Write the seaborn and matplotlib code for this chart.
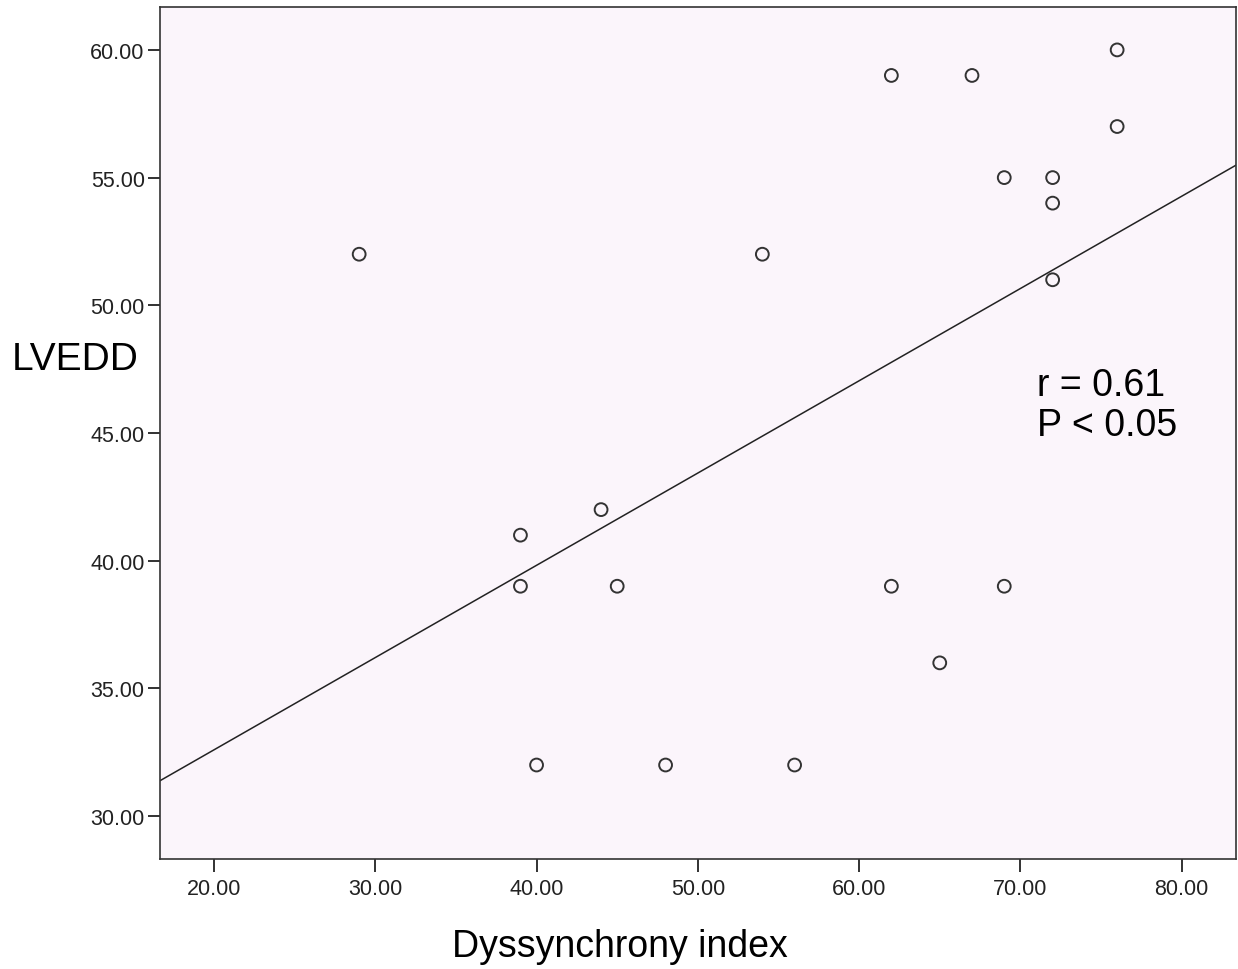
import matplotlib
matplotlib.use("Agg")
import matplotlib.pyplot as plt
import seaborn as sns
import pandas as pd

# values
dyssynchrony = [29, 39, 39, 40, 44, 45, 48, 54, 56, 62,
                62, 65, 67, 69, 69, 72, 72, 72, 76, 76]
lvedd = [52, 41, 39, 32, 42, 39, 32, 52, 32, 59,
         39, 36, 59, 55, 39, 55, 54, 51, 60, 57]
x_ticks = [20, 30, 40, 50, 60, 70, 80]
y_ticks = [30, 35, 40, 45, 50, 55, 60]
stats_text = "r = 0.61\nP < 0.05"

df = pd.DataFrame({"Dyssynchrony index": dyssynchrony, "LVEDD": lvedd})

sns.set_style("ticks")
plt.rcParams["font.family"] = ["Liberation Sans", "DejaVu Sans"]

fig = plt.figure(figsize=(12.38, 9.70), dpi=100)
ax = fig.add_axes([160 / 1238, 1 - 860 / 970, 1076 / 1238, 852 / 970])
ax.set_facecolor("#fbf5fb")

XLIM = (16.65, 83.37)
YLIM = (28.32, 61.68)
ax.set_xlim(*XLIM)
ax.set_ylim(*YLIM)

sns.scatterplot(data=df, x="Dyssynchrony index", y="LVEDD", ax=ax,
                s=85, facecolor="none", edgecolor="#333333", linewidth=1.4,
                legend=False)
# fit line stretched over the whole x range, as in the original
sns.regplot(data=df, x="Dyssynchrony index", y="LVEDD", ax=ax,
            scatter=False, ci=None, truncate=False,
            line_kws={"color": "#222222", "linewidth": 1.1})

ax.set_xlim(*XLIM)
ax.set_ylim(*YLIM)
ax.set_xticks(x_ticks)
ax.set_yticks(y_ticks)
ax.set_xticklabels([f"{v:.2f}" for v in x_ticks])
ax.set_yticklabels([f"{v:.2f}" for v in y_ticks])
ax.tick_params(axis="both", labelsize=15.5, colors="#222222",
               length=9, width=1.3)
ax.tick_params(axis="x", pad=5)
ax.tick_params(axis="y", pad=2)
for sp in ax.spines.values():
    sp.set_visible(True)
    sp.set_color("#333333")
    sp.set_linewidth(1.2)

ax.set_xlabel("")
ax.set_ylabel("")
fig.text(0.5004, 1 - 947 / 970, "Dyssynchrony index", fontsize=27,
         ha="center", va="center", color="black")
fig.text(12 / 1238, 1 - 360 / 970, "LVEDD", fontsize=28,
         ha="left", va="center", color="black")

ax.text(71.0, 46.1, stats_text, fontsize=27, ha="left", va="center",
        color="black", linespacing=1.15)

fig.savefig("out.png", dpi=100)
